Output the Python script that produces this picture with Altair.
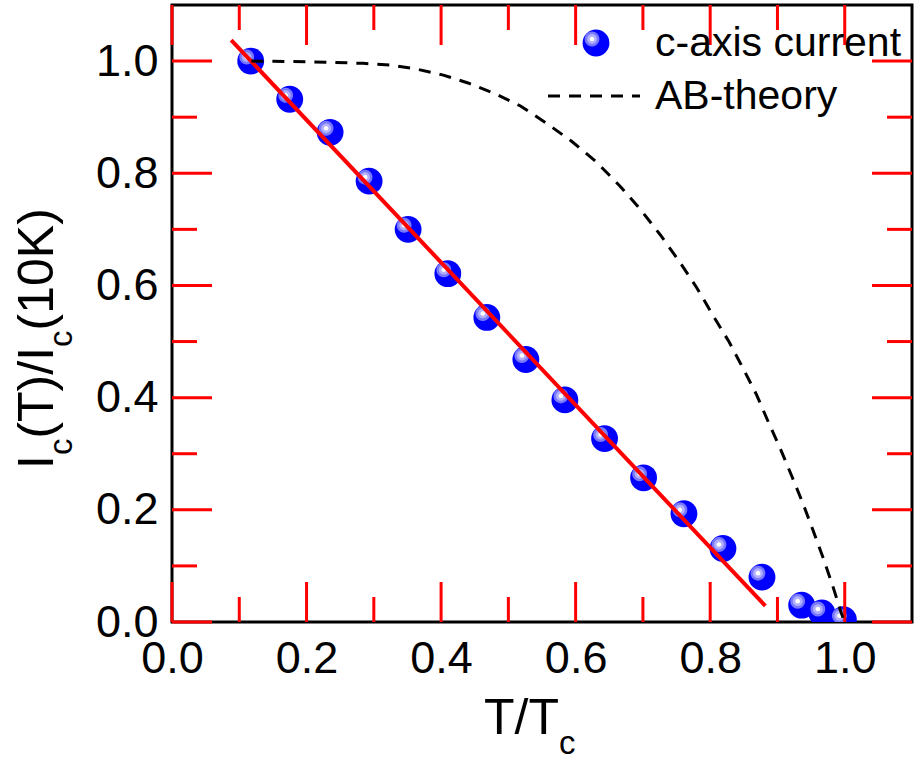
import math
import altair as alt
import pandas as pd

# ---------------- data ----------------
t_data = [0.117, 0.175, 0.235, 0.293, 0.351, 0.410, 0.468, 0.526, 0.584,
          0.643, 0.701, 0.761, 0.819, 0.877, 0.936, 0.966, 0.998]
ic_data = [1.000, 0.932, 0.873, 0.786, 0.700, 0.621, 0.543, 0.468, 0.396,
           0.327, 0.257, 0.193, 0.131, 0.080, 0.030, 0.016, 0.004]

fit_t = [0.088, 0.882]
fit_ic = [1.0375, 0.0286]

ab_t = [0.118, 0.200, 0.284, 0.324, 0.3625, 0.402, 0.440, 0.480, 0.518, 0.557,
        0.594, 0.631, 0.666, 0.696, 0.726, 0.754, 0.780, 0.804, 0.828, 0.849,
        0.869, 0.887, 0.905, 0.922, 0.938, 0.953, 0.968, 0.982, 0.995, 1.000]
ab_ic = [1.000, 0.999, 0.996, 0.993, 0.986, 0.9755, 0.961, 0.942, 0.920, 0.889,
         0.857, 0.820, 0.777, 0.736, 0.690, 0.643, 0.596, 0.547, 0.4995, 0.452,
         0.405, 0.355, 0.307, 0.258, 0.211, 0.163, 0.114, 0.065, 0.0155, 0.000]

x_major = [0.0, 0.2, 0.4, 0.6, 0.8, 1.0]
x_minor = [0.1, 0.3, 0.5, 0.7, 0.9]
y_major = [0.0, 0.2, 0.4, 0.6, 0.8, 1.0]
y_minor = [0.1, 0.3, 0.5, 0.7, 0.9]

legend_labels = ["c-axis current", "AB-theory"]
x_title_parts = [("T/T", "main"), ("c", "sub")]
y_title_parts = [("I", "main"), ("c", "sub"), ("(T)/I", "main"), ("c", "sub"), ("(10K)", "main")]

# ---------------- layout constants ----------------
W, H = 740, 617
FONT = "Liberation Sans"
MAIN_FS, SUB_FS = 50, 33
TICK_W = 3
TICK_COLOR = "red"
MAJ_LEN, MIN_LEN = 40, 25
ADV = {"I": .278, "c": .5, "(": .333, "T": .611, ")": .333, "/": .278,
       "1": .556, "0": .556, "K": .667}

SPHERE_SIZE = 720
UNIT = math.sqrt(SPHERE_SIZE) / 2.0


def offset_disc(r_px, off_px):
    r = r_px / UNIT
    c = off_px / UNIT
    return (f"M {c - r:.4f},{c:.4f} a {r:.4f},{r:.4f} 0 1,0 {2 * r:.4f},0 "
            f"a {r:.4f},{r:.4f} 0 1,0 {-2 * r:.4f},0 Z")


highlight_specs = [(7.4, "#7878ff"), (4.9, "#b0b0ff"), (2.3, "#ffffff")]

pts = pd.DataFrame({"t": t_data, "ic": ic_data})
fit = pd.DataFrame({"t": fit_t, "ic": fit_ic})
ab = pd.DataFrame({"t": ab_t, "ic": ab_ic})
one = pd.DataFrame({"a": [0]})

xs = alt.Scale(domain=[0, 1.1], nice=False, zero=False)
ys = alt.Scale(domain=[0, 1.1], nice=False, zero=False)
xaxis = alt.Axis(values=x_major, format=".1f", labelFontSize=45, labelFont=FONT,
                 labelColor="black", labelPadding=14, ticks=False, tickSize=0,
                 domain=False, grid=False, labelFlush=False, labelOverlap=False)
yaxis = alt.Axis(values=y_major, format=".1f", labelFontSize=45, labelFont=FONT,
                 labelColor="black", labelPadding=14, ticks=False, tickSize=0,
                 domain=False, grid=False, labelFlush=False, labelOverlap=False)

layers = []

layers.append(alt.Chart(pts).mark_circle(size=SPHERE_SIZE, color="#0000ff", opacity=1, clip=True).encode(
    x=alt.X("t:Q", scale=xs, axis=xaxis, title=None),
    y=alt.Y("ic:Q", scale=ys, axis=yaxis, title=None)))
for r_px, col in highlight_specs:
    layers.append(alt.Chart(pts).mark_point(shape=offset_disc(r_px, -4), size=SPHERE_SIZE,
                                            filled=True, color=col, opacity=1, strokeWidth=0,
                                            clip=True).encode(
        x=alt.X("t:Q", scale=xs, title=None), y=alt.Y("ic:Q", scale=ys, title=None)))

xmaj = pd.DataFrame({"xv": x_major})
xmin = pd.DataFrame({"xm": x_minor})
ymaj = pd.DataFrame({"yv": y_major})
ymin = pd.DataFrame({"ym": y_minor})
for df, f, ln in [(xmaj, "xv", MAJ_LEN), (xmin, "xm", MIN_LEN)]:
    layers.append(alt.Chart(df).mark_rule(color=TICK_COLOR, strokeWidth=TICK_W).encode(
        x=alt.X(f + ":Q", scale=xs, title=None), y=alt.value(H), y2=alt.value(H - ln)))
    layers.append(alt.Chart(df).mark_rule(color=TICK_COLOR, strokeWidth=TICK_W).encode(
        x=alt.X(f + ":Q", scale=xs, title=None), y=alt.value(0), y2=alt.value(ln)))
for df, f, ln in [(ymaj, "yv", MAJ_LEN), (ymin, "ym", MIN_LEN)]:
    layers.append(alt.Chart(df).mark_rule(color=TICK_COLOR, strokeWidth=TICK_W).encode(
        y=alt.Y(f + ":Q", scale=ys, title=None), x=alt.value(0), x2=alt.value(ln)))
    layers.append(alt.Chart(df).mark_rule(color=TICK_COLOR, strokeWidth=TICK_W).encode(
        y=alt.Y(f + ":Q", scale=ys, title=None), x=alt.value(W), x2=alt.value(W - ln)))

layers.append(alt.Chart(fit).mark_line(color="#ff0000", strokeWidth=4).encode(
    x=alt.X("t:Q", scale=xs, title=None), y=alt.Y("ic:Q", scale=ys, title=None)))
layers.append(alt.Chart(ab).mark_line(color="black", strokeWidth=3, strokeDash=[12, 9]).encode(
    x=alt.X("t:Q", scale=xs, title=None), y=alt.Y("ic:Q", scale=ys, title=None)))

layers.append(alt.Chart(one).mark_circle(size=SPHERE_SIZE, color="#0000ff", opacity=1).encode(
    x=alt.value(424), y=alt.value(38)))
for r_px, col in highlight_specs:
    layers.append(alt.Chart(one).mark_point(shape=offset_disc(r_px, -4), size=SPHERE_SIZE,
                                            filled=True, color=col, opacity=1, strokeWidth=0).encode(
        x=alt.value(424), y=alt.value(38)))
layers.append(alt.Chart(one).mark_rule(color="black", strokeWidth=3, strokeDash=[12, 9]).encode(
    x=alt.value(376), x2=alt.value(468), y=alt.value(91)))
for lab, yy in zip(legend_labels, [39, 92]):
    layers.append(alt.Chart(one).mark_text(text=lab, font=FONT, fontSize=41, align="left",
                                           baseline="middle", color="black").encode(
        x=alt.value(483), y=alt.value(yy)))

xpos = 312
for txt, kind in x_title_parts:
    fs = MAIN_FS if kind == "main" else SUB_FS
    yy = 729 if kind == "main" else 749
    layers.append(alt.Chart(one).mark_text(text=txt, font=FONT, fontSize=fs, align="left",
                                           baseline="alphabetic", color="black").encode(
        x=alt.value(xpos), y=alt.value(yy)))
    xpos += sum(ADV[ch] for ch in txt) * fs

ypos = 464
for txt, kind in y_title_parts:
    fs = MAIN_FS if kind == "main" else SUB_FS
    xx = -119 if kind == "main" else -100
    layers.append(alt.Chart(one).mark_text(text=txt, font=FONT, fontSize=fs, align="left",
                                           baseline="alphabetic", angle=270, color="black").encode(
        x=alt.value(xx), y=alt.value(ypos)))
    ypos -= sum(ADV[ch] for ch in txt) * fs

chart = alt.layer(*layers).properties(
    width=W, height=H,
    padding={"left": 172, "top": 5, "right": 2, "bottom": 138},
    autosize=alt.AutoSizeParams(type="none"),
    background="white",
).configure_view(stroke="black", strokeWidth=3)

chart.save("out.html", embed_options={"renderer": "svg", "actions": False})
